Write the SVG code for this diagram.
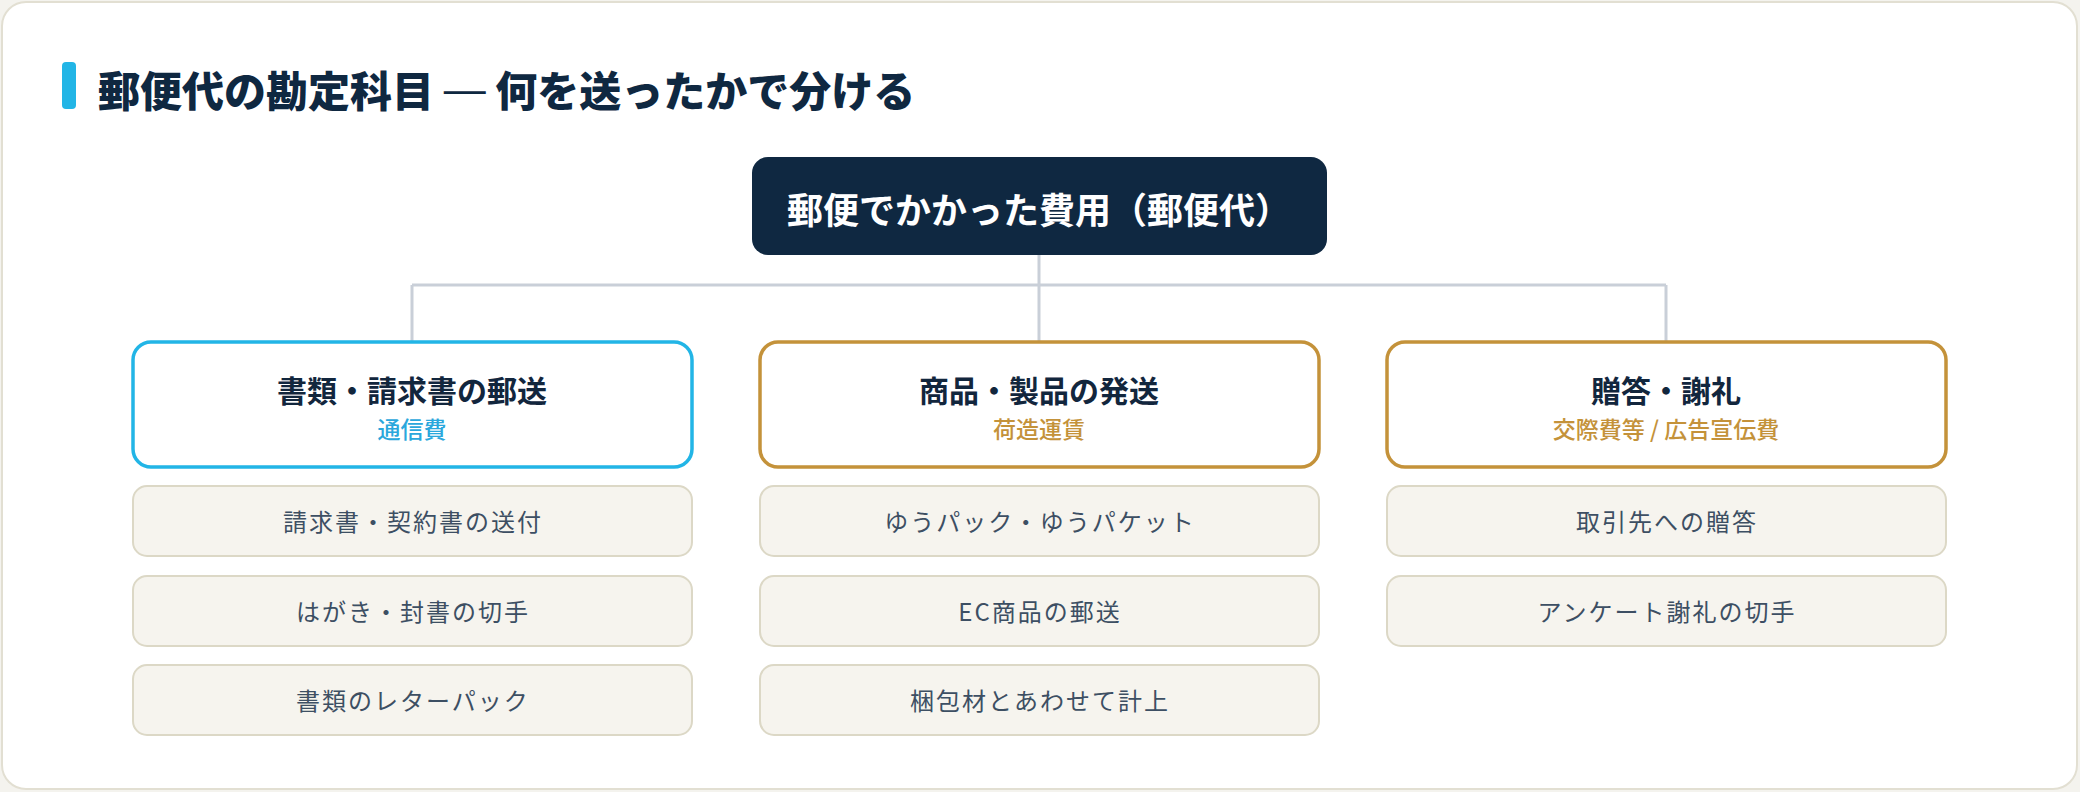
<svg xmlns="http://www.w3.org/2000/svg" width="2080" height="792" viewBox="0 0 2080 792">
<style>
text{font-family:"Noto Sans CJK JP","Noto Sans",sans-serif;dominant-baseline:central;text-anchor:middle}
.title{font-size:42px;font-weight:900;fill:#0f2841;text-anchor:start}
.dash{font-family:"Liberation Sans",sans-serif;font-weight:400}
.root{font-size:36px;font-weight:700;fill:#ffffff}
.cat{fill:#ffffff;stroke-width:3.5}
.cath{font-size:30px;font-weight:700;fill:#12263d}
.cats{font-size:23px;font-weight:500}
.item rect{fill:#f6f4ee;stroke:#dcd8c6;stroke-width:2}
.item text{font-size:24px;fill:#3d4f63;letter-spacing:2px}
.conn{stroke:#c9cfd8;stroke-width:3;fill:none}
</style>
<rect x="0" y="0" width="2080" height="792" fill="#f4f3ee"/>
<rect x="2" y="2" width="2075" height="787" rx="24" fill="#ffffff" stroke="#e2dfd2" stroke-width="2"/>
<g id="heading">
<rect x="62" y="62" width="14" height="47" rx="4" fill="#22b5e6"/>
<text class="title" x="98" y="88">郵便代の勘定科目 <tspan class="dash">—</tspan> 何を送ったかで分ける</text>
</g>
<g id="connectors">
<path class="conn" d="M1039 255 V285 M412 285 H1666 M412 285 V342 M1039 285 V342 M1666 285 V342"/>
</g>
<g id="root">
<rect x="752" y="157" width="575" height="98" rx="16" fill="#0f2841"/>
<text class="root" x="1039" y="208">郵便でかかった費用（郵便代）</text>
</g>
<g id="cat-tsushin">
<rect class="cat" x="133" y="342" width="559" height="125" rx="18" stroke="#22b5e6"/>
<text class="cath" x="412" y="389">書類・請求書の郵送</text>
<text class="cats" x="412" y="428" fill="#2aa7dc">通信費</text>
</g>
<g id="cat-nizukuri">
<rect class="cat" x="760" y="342" width="559" height="125" rx="18" stroke="#c4923a"/>
<text class="cath" x="1039" y="389">商品・製品の発送</text>
<text class="cats" x="1039" y="428" fill="#c4923a">荷造運賃</text>
</g>
<g id="cat-kosai">
<rect class="cat" x="1387" y="342" width="559" height="125" rx="18" stroke="#c4923a"/>
<text class="cath" x="1666" y="389">贈答・謝礼</text>
<text class="cats" x="1666" y="428" fill="#c4923a">交際費等 / 広告宣伝費</text>
</g>
<g id="item-1-1" class="item"><rect x="133" y="486" width="559" height="70" rx="14"/><text x="413" y="520">請求書・契約書の送付</text></g>
<g id="item-1-2" class="item"><rect x="133" y="576" width="559" height="70" rx="14"/><text x="413" y="610">はがき・封書の切手</text></g>
<g id="item-1-3" class="item"><rect x="133" y="665" width="559" height="70" rx="14"/><text x="413" y="699">書類のレターパック</text></g>
<g id="item-2-1" class="item"><rect x="760" y="486" width="559" height="70" rx="14"/><text x="1040" y="520">ゆうパック・ゆうパケット</text></g>
<g id="item-2-2" class="item"><rect x="760" y="576" width="559" height="70" rx="14"/><text x="1040" y="610">EC商品の郵送</text></g>
<g id="item-2-3" class="item"><rect x="760" y="665" width="559" height="70" rx="14"/><text x="1040" y="699">梱包材とあわせて計上</text></g>
<g id="item-3-1" class="item"><rect x="1387" y="486" width="559" height="70" rx="14"/><text x="1667" y="520">取引先への贈答</text></g>
<g id="item-3-2" class="item"><rect x="1387" y="576" width="559" height="70" rx="14"/><text x="1667" y="610">アンケート謝礼の切手</text></g>
</svg>
